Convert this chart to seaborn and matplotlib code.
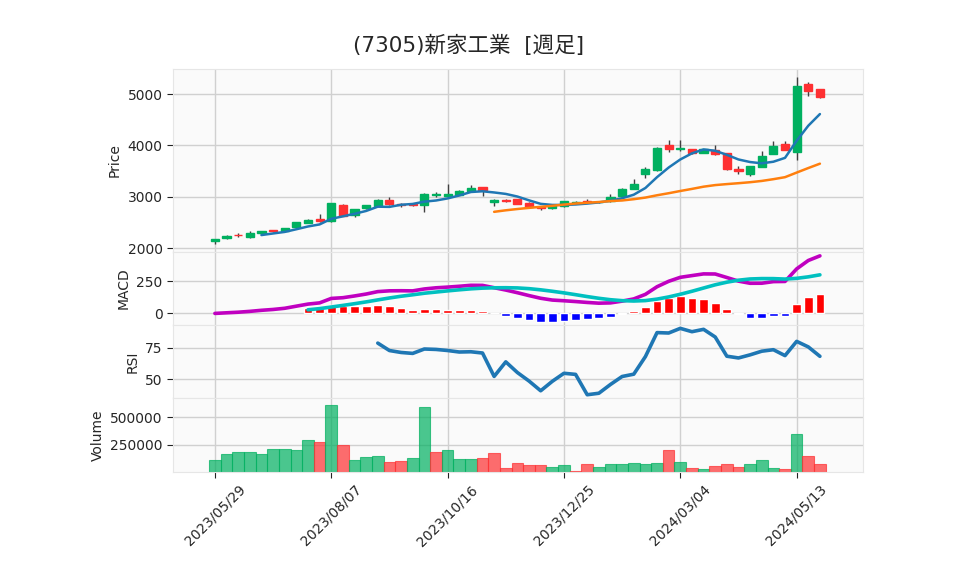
import numpy as np
import pandas as pd
import matplotlib
matplotlib.use('Agg')
import matplotlib.pyplot as plt
import seaborn as sns

# weekly candles
dates = pd.date_range('2023-05-29', periods=53, freq='W-MON')
opens = [2150, 2200, 2265, 2220, 2295, 2355, 2340, 2410, 2500, 2565,
         2540, 2840, 2640, 2775, 2830, 2945, 2870, 2860, 2835, 3030,
         3015, 3040, 3120, 3185, 2905, 2940, 2955, 2890, 2800, 2775,
         2815, 2885, 2930, 2900, 2915, 3010, 3160, 3445, 3525, 4005,
         3940, 3925, 3860, 3910, 3848, 3545, 3450, 3590, 3835, 4030,
         3880, 5195, 5090]
highs = [2190, 2260, 2290, 2330, 2345, 2365, 2400, 2520, 2575, 2660,
         2890, 2870, 2770, 2850, 2955, 3000, 2880, 2870, 3070, 3100,
         3245, 3130, 3240, 3190, 2950, 2950, 2965, 2900, 2810, 2845,
         2930, 2925, 2950, 2915, 3065, 3170, 3345, 3585, 3970, 4108,
         4110, 3940, 3935, 4010, 3855, 3608, 3610, 3893, 4087, 4094,
         5324, 5226, 5100]
lows = [2080, 2180, 2230, 2210, 2285, 2320, 2330, 2400, 2490, 2520,
        2510, 2620, 2610, 2765, 2820, 2850, 2810, 2815, 2700, 3000,
        3005, 3030, 3110, 3010, 2830, 2910, 2860, 2800, 2745, 2765,
        2805, 2875, 2885, 2890, 2905, 3000, 3150, 3363, 3510, 3873,
        3883, 3840, 3850, 3820, 3520, 3440, 3408, 3580, 3825, 3905,
        3718, 4968, 4925]
closes = [2180, 2240, 2250, 2290, 2330, 2335, 2390, 2510, 2560, 2530,
          2880, 2630, 2760, 2835, 2945, 2860, 2835, 2840, 3060, 3055,
          3062, 3120, 3180, 3130, 2940, 2920, 2865, 2810, 2790, 2835,
          2920, 2910, 2895, 2905, 3000, 3160, 3255, 3545, 3960, 3935,
          3945, 3850, 3925, 3830, 3540, 3495, 3600, 3800, 3985, 3915,
          5155, 5065, 4935]
volumes = [114000, 170000, 182000, 182000, 170000, 216000, 216000, 207000, 299000, 281000,
           614000, 253000, 114000, 142000, 151000, 96000, 105000, 133000, 596000, 188000,
           207000, 123000, 123000, 130000, 176000, 43000, 83000, 65000, 65000, 46000,
           65000, 12000, 74000, 46000, 74000, 74000, 83000, 74000, 83000, 204000,
           93000, 37000, 28000, 56000, 74000, 46000, 74000, 111000, 37000, 28000,
           346000, 148000, 74000]

df = pd.DataFrame({'Open': opens, 'High': highs, 'Low': lows,
                   'Close': closes, 'Volume': volumes}, index=dates)
df['x'] = np.arange(len(df))

# indicators
df['ma5'] = df['Close'].rolling(5).mean()
df['ma25'] = df['Close'].rolling(25).mean()
ema12 = df['Close'].ewm(span=12, adjust=False).mean()
ema26 = df['Close'].ewm(span=26, adjust=False).mean()
df['macd'] = ema12 - ema26
df['signal'] = df['macd'].rolling(9).mean()
df['hist'] = df['macd'] - df['signal']
diff = df['Close'].diff()
gain = diff.clip(lower=0).rolling(14).mean()
loss = (-diff.clip(upper=0)).rolling(14).mean()
df['rsi'] = 100 * gain / (gain + loss)

up, down = '#00b060', '#fe3032'

sns.set_style('whitegrid', {'axes.facecolor': '#fafafa', 'grid.color': '#d0d0d0',
                            'axes.edgecolor': '#e6e6e6'})
plt.rcParams['font.family'] = ['DejaVu Sans']

fig = plt.figure(figsize=(9.58, 5.75), dpi=100)
gs = fig.add_gridspec(4, 1, height_ratios=[183, 73, 73, 74], hspace=0,
                      left=0.1806, right=0.9008, top=0.88, bottom=0.179)
ax_p = fig.add_subplot(gs[0])
ax_m = fig.add_subplot(gs[1], sharex=ax_p)
ax_r = fig.add_subplot(gs[2], sharex=ax_p)
ax_v = fig.add_subplot(gs[3], sharex=ax_p)

# candles
is_up = df['Close'] >= df['Open']
ccol = np.where(is_up, up, down)
ax_p.vlines(df['x'], df['Low'], df['High'], color='#404040', lw=1, zorder=2)
ax_p.bar(df['x'], df['Close'] - df['Open'], bottom=df['Open'], width=0.7,
         color=ccol, edgecolor=ccol, linewidth=1, zorder=3)
sns.lineplot(x=df['x'], y=df['ma5'], ax=ax_p, color='#1f77b4', lw=1.8, zorder=4)
sns.lineplot(x=df['x'], y=df['ma25'], ax=ax_p, color='#ff7f0e', lw=1.8, zorder=4)
ax_p.set_ylim(1928, 5487)
ax_p.set_yticks([2000, 3000, 4000, 5000])
ax_p.set_ylabel('Price')

# MACD
hcol = np.where(df['hist'] >= 0, 'red', 'blue')
ax_m.bar(df['x'], df['hist'], width=0.75, color=hcol, zorder=2)
sns.lineplot(x=df['x'], y=df['macd'], ax=ax_m, color='#c000c0', lw=2.6, zorder=3)
sns.lineplot(x=df['x'], y=df['signal'], ax=ax_m, color='#00c0c0', lw=2.6, zorder=3)
ax_m.set_ylim(-90, 475)
ax_m.set_yticks([0, 250])
ax_m.set_ylabel('MACD')

# RSI
sns.lineplot(x=df['x'], y=df['rsi'], ax=ax_r, color='#1f77b4', lw=2.6)
ax_r.set_yticks([50, 75])
ax_r.set_ylabel('RSI')

# volume, coloured by close vs previous close
vup = df['Close'].diff().fillna(1) >= 0
vcol = np.where(vup, up, down)
ax_v.bar(df['x'], df['Volume'], width=1.0, color=vcol, alpha=0.7,
         edgecolor=vcol, linewidth=0.8)
ax_v.set_ylim(0.3 * df['Volume'].min(), 1.1 * df['Volume'].max())
ax_v.set_yticks([250000, 500000])
ax_v.set_yticklabels(['250000', '500000'])
ax_v.set_ylabel('Volume')

ticks = list(range(0, 53, 10))
ax_v.set_xticks(ticks)
ax_v.set_xticklabels([dates[i].strftime('%Y/%m/%d') for i in ticks], rotation=45)
ax_v.set_xlim(-3.6, 55.7)

for ax in [ax_p, ax_m, ax_r, ax_v]:
    ax.grid(True, color='#d0d0d0', lw=1)
    ax.set_axisbelow(True)
    ax.tick_params(axis='y', left=True, length=4, color='#222222', labelsize=10)
    ax.set_xlabel('')
    ax.yaxis.label.set_size(10)
for ax in [ax_p, ax_m, ax_r]:
    ax.tick_params(axis='x', bottom=False, labelbottom=False)
ax_v.tick_params(axis='x', bottom=True, length=4, color='#222222', labelsize=10)

fig.suptitle('(7305)新家工業  [週足]', x=0.489, y=0.94, fontsize=15.5,
             family=['DejaVu Sans', 'Noto Sans CJK JP'])

fig.savefig('out.png', dpi=100)
